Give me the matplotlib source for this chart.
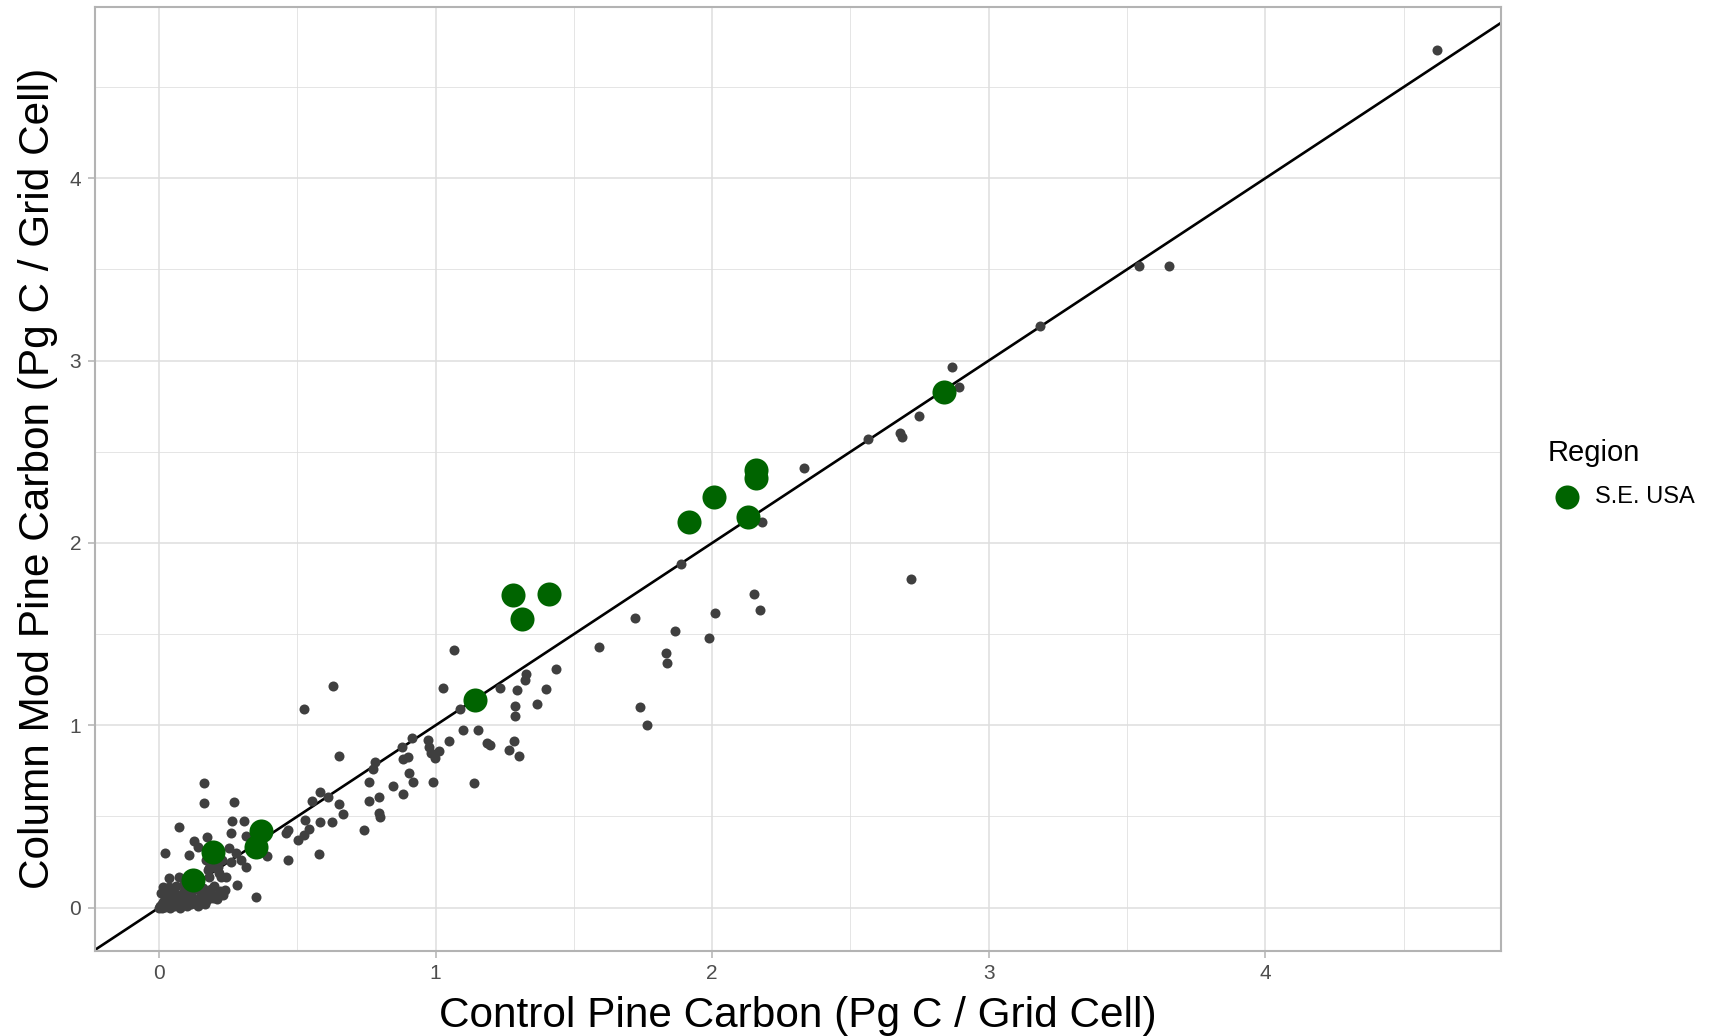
import matplotlib
matplotlib.use("Agg")
import matplotlib.pyplot as plt
from matplotlib.ticker import MultipleLocator
import numpy as np

plt.rcParams['font.family'] = ['Liberation Sans', 'DejaVu Sans']

# Grid cells outside the S.E. USA region
other_control = [
    4.620, 3.544, 3.651, 3.186, 2.867, 2.893, 2.748, 2.679, 2.688, 2.564, 2.333, 2.719,
    2.180, 1.888, 2.150, 2.174, 2.011, 1.722, 1.865, 1.987, 1.589, 1.833, 1.835, 1.738, 1.763,
    1.434, 1.328, 1.322, 1.233, 1.293, 1.398, 1.365, 1.287, 1.288, 1.283, 1.264, 1.300, 1.137,
    1.065, 1.025, 1.089, 1.154, 1.100, 1.184, 1.195,
    0.630, 0.524,
    1.047, 0.992, 0.971, 0.977, 1.011, 0.983, 0.998, 0.915, 0.878, 0.899, 0.881, 0.902, 0.919,
    0.649, 0.782, 0.775, 0.760, 0.845, 0.883, 0.796, 0.758, 0.583, 0.612, 0.553, 0.652, 0.666,
    0.796, 0.799, 0.742, 0.627, 0.583, 0.529, 0.543, 0.525, 0.577,
    0.465, 0.459, 0.466, 0.501, 0.389,
    0.164, 0.164, 0.270, 0.071, 0.264, 0.307, 0.127, 0.175, 0.023, 0.110, 0.261, 0.314, 0.351,
    0.281, 0.240, 0.140, 0.254, 0.278, 0.296, 0.314, 0.260, 0.228, 0.212, 0.170, 0.200, 0.182,
    0.176, 0.206, 0.218, 0.242, 0.224, 0.182, 0.188, 0.194, 0.037, 0.073, 0.013, 0.007, 0.037,
    0.000, 0.005, 0.010, 0.015, 0.020, 0.025, 0.030, 0.035, 0.040, 0.045, 0.050, 0.055, 0.060,
    0.065, 0.070, 0.075, 0.080, 0.085, 0.090, 0.095, 0.100, 0.105, 0.110, 0.115, 0.120, 0.130,
    0.135, 0.140, 0.145, 0.150, 0.155, 0.160, 0.165, 0.170, 0.175, 0.180, 0.190, 0.200, 0.210,
    0.220, 0.230, 0.030, 0.060, 0.090, 0.020, 0.010,
]
other_column = [
    4.706, 3.520, 3.518, 3.189, 2.964, 2.853, 2.696, 2.601, 2.579, 2.570, 2.409, 1.800,
    2.113, 1.883, 1.722, 1.634, 1.614, 1.587, 1.517, 1.477, 1.431, 1.398, 1.343, 1.102, 1.000,
    1.309, 1.280, 1.248, 1.207, 1.193, 1.201, 1.115, 1.106, 1.053, 0.916, 0.865, 0.832, 0.682,
    1.413, 1.204, 1.088, 0.974, 0.974, 0.905, 0.890,
    1.217, 1.089,
    0.914, 0.691, 0.919, 0.883, 0.861, 0.850, 0.821, 0.929, 0.881, 0.828, 0.814, 0.737, 0.687,
    0.830, 0.799, 0.759, 0.687, 0.669, 0.625, 0.605, 0.585, 0.633, 0.605, 0.585, 0.567, 0.514,
    0.521, 0.499, 0.426, 0.468, 0.468, 0.481, 0.431, 0.399, 0.294,
    0.262, 0.409, 0.425, 0.372, 0.284,
    0.683, 0.574, 0.579, 0.440, 0.476, 0.476, 0.366, 0.385, 0.302, 0.290, 0.412, 0.394, 0.060,
    0.125, 0.097, 0.334, 0.326, 0.298, 0.262, 0.225, 0.252, 0.262, 0.225, 0.262, 0.234, 0.216,
    0.207, 0.216, 0.189, 0.170, 0.170, 0.170, 0.101, 0.052, 0.161, 0.170, 0.115, 0.079, 0.115,
    0.000, 0.010, 0.000, 0.030, 0.005, 0.050, 0.015, 0.070, 0.000, 0.030, 0.090, 0.010, 0.050,
    0.030, 0.070, 0.000, 0.040, 0.020, 0.090, 0.060, 0.010, 0.040, 0.080, 0.020, 0.060, 0.030,
    0.100, 0.010, 0.050, 0.080, 0.030, 0.110, 0.020, 0.060, 0.040, 0.090, 0.070, 0.120, 0.050,
    0.090, 0.070, 0.100, 0.120, 0.130, 0.060, 0.020,
]

# S.E. USA grid cells
se_control = [0.122, 0.196, 0.351, 0.369, 1.144, 1.278, 1.311, 1.411,
              1.917, 2.008, 2.129, 2.157, 2.157, 2.838]
se_column = [0.152, 0.304, 0.335, 0.420, 1.139, 1.714, 1.583, 1.722,
             2.113, 2.252, 2.144, 2.354, 2.400, 2.827]

ticks = [0, 1, 2, 3, 4]
tick_labels = ["0", "1", "2", "3", "4"]

fig = plt.figure(figsize=(17.15, 10.36), dpi=100)
ax = fig.add_axes([0.0555, 0.0825, 0.8195, 0.9111])

# Limits with a 5% margin around all the data
all_x = np.array(other_control + se_control)
all_y = np.array(other_column + se_column)
xr = all_x.max() - all_x.min()
yr = all_y.max() - all_y.min()
ax.set_xlim(all_x.min() - 0.05 * xr, all_x.max() + 0.05 * xr)
ax.set_ylim(all_y.min() - 0.05 * yr, all_y.max() + 0.05 * yr)

# Grid
ax.set_axisbelow(True)
ax.xaxis.set_minor_locator(MultipleLocator(0.5))
ax.yaxis.set_minor_locator(MultipleLocator(0.5))
ax.grid(which='major', color='#DEDEDE', linewidth=1.1)
ax.grid(which='minor', color='#DEDEDE', linewidth=0.55)

# 1:1 line
ax.axline((0, 0), slope=1, color='black', linewidth=1.9, zorder=2)

ax.scatter(other_control, other_column, s=52, color='#3F3F3F', linewidths=0, zorder=3)
ax.scatter(se_control, se_column, s=300, color='#006400', linewidths=0, zorder=4,
           label='S.E. USA')

ax.set_xticks(ticks)
ax.set_xticklabels(tick_labels)
ax.set_yticks(ticks)
ax.set_yticklabels(tick_labels)
ax.tick_params(which='major', length=5, width=1.1, color='#B3B3B3',
               labelsize=15, labelcolor='#4D4D4D', pad=5)
ax.tick_params(which='minor', length=0)

for sp in ax.spines.values():
    sp.set_color('#B3B3B3')
    sp.set_linewidth(1.5)

ax.set_xlabel("Control Pine Carbon (Pg C / Grid Cell)", fontsize=30.5, labelpad=9)
ax.set_ylabel("Column Mod Pine Carbon (Pg C / Grid Cell)", fontsize=30.5, labelpad=8)

leg = ax.legend(title='Region', loc='upper left', bbox_to_anchor=(0.897, 0.585),
                bbox_transform=fig.transFigure, frameon=False, fontsize=17,
                title_fontsize=21, handlelength=1.6, handletextpad=0.4,
                borderaxespad=0, labelspacing=0.8)
leg._legend_box.align = 'left'

fig.savefig("out.png", dpi=100)
